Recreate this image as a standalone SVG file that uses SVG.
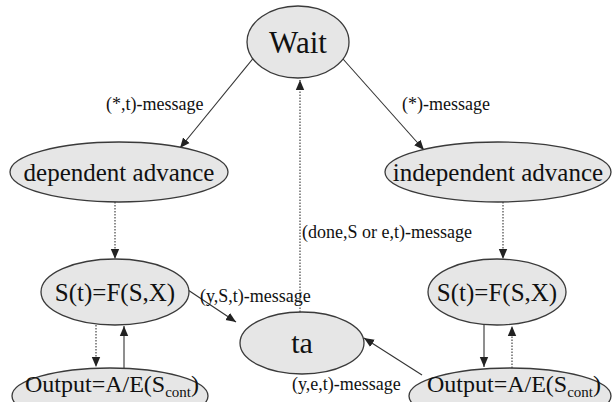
<svg xmlns="http://www.w3.org/2000/svg" width="615" height="402" viewBox="0 0 615 402">
<defs>
<style>
.node ellipse{fill:#e6e6e6;stroke:#3a3a3a;stroke-width:1.3}
.node text{font-family:"Liberation Serif","Times New Roman",serif;fill:#111;text-anchor:middle}
.edge{stroke:#333;stroke-width:1.1;fill:none}
.dot{stroke-dasharray:1.5 1.5}
.lbl{font-family:"Liberation Serif","Times New Roman",serif;font-size:18px;fill:#111}
</style>
<marker id="ah" viewBox="0 0 10 10" refX="10" refY="5" markerWidth="10" markerHeight="10" markerUnits="userSpaceOnUse" orient="auto">
<path d="M0,0.8 L10,5 L0,9.2 z" fill="#222"/>
</marker>
</defs>
<rect width="615" height="402" fill="#fff"/>
<g id="edges">
<line class="edge" x1="260" y1="50" x2="180" y2="148" marker-end="url(#ah)"/>
<line class="edge" x1="335" y1="50" x2="424" y2="150" marker-end="url(#ah)"/>
<line class="edge dot" x1="300" y1="312" x2="300" y2="80" marker-end="url(#ah)"/>
<line class="edge dot" x1="115" y1="202" x2="115" y2="259" marker-end="url(#ah)"/>
<line class="edge dot" x1="503" y1="202" x2="503" y2="259" marker-end="url(#ah)"/>
<line class="edge" x1="188" y1="290" x2="236" y2="322" marker-end="url(#ah)"/>
<line class="edge dot" x1="96" y1="325" x2="96" y2="367" marker-end="url(#ah)"/>
<line class="edge" x1="124" y1="368" x2="124" y2="326" marker-end="url(#ah)"/>
<line class="edge" x1="484" y1="325" x2="484" y2="367" marker-end="url(#ah)"/>
<line class="edge dot" x1="512" y1="368" x2="512" y2="326" marker-end="url(#ah)"/>
<line class="edge" x1="422" y1="375" x2="364" y2="338" marker-end="url(#ah)"/>
<text class="lbl" x="106" y="110">(*,t)-message</text>
<text class="lbl" x="402" y="110">(*)-message</text>
<text class="lbl" x="302" y="238">(done,S or e,t)-message</text>
<text class="lbl" x="200" y="302">(y,S,t)-message</text>
<text class="lbl" x="292" y="390">(y,e,t)-message</text>
</g>
<g id="wait" class="node"><ellipse cx="298" cy="42" rx="51" ry="36"/><text x="298" y="53" font-size="31">Wait</text></g>
<g id="dep" class="node"><ellipse cx="119" cy="172" rx="109" ry="30"/><text x="119" y="181" font-size="25">dependent advance</text></g>
<g id="indep" class="node"><ellipse cx="498" cy="172" rx="113" ry="30"/><text x="498" y="181" font-size="25">independent advance</text></g>
<g id="sl" class="node"><ellipse cx="115" cy="292" rx="74" ry="33"/><text x="115" y="301" font-size="25">S(t)=F(S,X)</text></g>
<g id="sr" class="node"><ellipse cx="497" cy="292" rx="69" ry="33"/><text x="497" y="301" font-size="25">S(t)=F(S,X)</text></g>
<g id="ta" class="node"><ellipse cx="302" cy="343" rx="62" ry="31"/><text x="302" y="353" font-size="30">ta</text></g>
<g id="ol" class="node"><ellipse cx="110" cy="396" rx="98" ry="28"/><text x="112" y="392" font-size="24">Output=A/E(S<tspan font-size="15" dy="5">cont</tspan><tspan dy="-5">)</tspan></text></g>
<g id="or" class="node"><ellipse cx="510" cy="396" rx="101" ry="28"/><text x="514" y="392" font-size="24">Output=A/E(S<tspan font-size="15" dy="5">cont</tspan><tspan dy="-5">)</tspan></text></g>
</svg>
